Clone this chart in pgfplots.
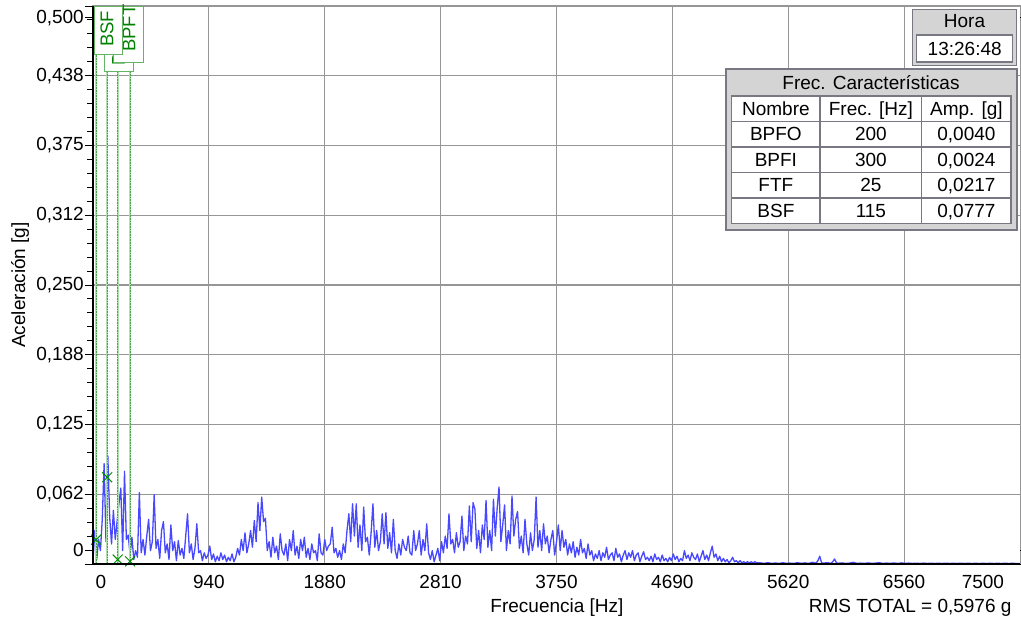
\documentclass[border=0pt]{standalone}
\usepackage{fontspec}
\setmainfont{Liberation Sans}
\usepackage{pgfplots}
\pgfplotsset{compat=1.18}
\usepackage{pgfplotstable}
\newcommand\fs{\fontsize{19}{22}\selectfont}
\newcommand\fsm{\fontsize{18.5}{20}\selectfont}
\definecolor{specblue}{RGB}{72,72,255}
\definecolor{gridgray}{RGB}{150,150,150}
\definecolor{mkgreen}{RGB}{0,140,0}
\definecolor{txtgreen}{RGB}{0,128,0}
\definecolor{boxgreen}{RGB}{100,180,100}
\definecolor{lightgreen}{RGB}{175,222,175}
\definecolor{dotgreen}{RGB}{70,160,70}
\definecolor{panel}{RGB}{212,212,212}
\definecolor{bord}{RGB}{120,120,130}

% spectrum: frequency [Hz], amplitude [mg]
\pgfplotstableread[row sep=\\]{
f a\\
0 3\\ 15 30\\ 30 4\\ 45 22\\ 60 12\\ 75 40\\ 90 90\\ 105 20\\ 120 97\\ 135 42\\
150 18\\ 165 48\\ 180 22\\ 195 38\\ 210 54\\ 225 68\\ 240 12\\ 255 83\\ 270 22\\ 285 26\\
300 8\\ 315 24\\ 330 4\\ 345 12\\ 360 6\\ 375 64\\ 390 10\\ 405 22\\ 420 8\\ 435 25\\
450 40\\ 465 12\\ 480 20\\ 495 62\\ 510 14\\ 525 22\\ 540 5\\ 555 30\\ 570 38\\ 585 10\\
600 18\\ 615 4\\ 630 35\\ 645 12\\ 660 20\\ 675 3\\ 690 21\\ 705 8\\ 720 14\\ 735 5\\
750 25\\ 765 45\\ 780 10\\ 795 18\\ 810 4\\ 825 14\\ 840 36\\ 855 10\\ 870 12\\ 885 3\\
900 10\\ 915 5\\ 930 8\\ 945 16\\ 960 4\\ 975 9\\ 990 2\\ 1005 7\\ 1020 3\\ 1035 10\\
1050 4\\ 1065 8\\ 1080 2\\ 1095 6\\ 1110 3\\ 1125 9\\ 1140 2\\ 1155 6\\ 1170 14\\ 1185 8\\
1200 22\\ 1215 12\\ 1230 28\\ 1245 10\\ 1260 18\\ 1275 30\\ 1290 15\\ 1305 39\\ 1320 20\\ 1335 55\\
1350 30\\ 1365 60\\ 1380 38\\ 1395 41\\ 1410 12\\ 1425 20\\ 1440 6\\ 1455 24\\ 1470 10\\ 1485 16\\
1500 4\\ 1515 27\\ 1530 12\\ 1545 8\\ 1560 18\\ 1575 3\\ 1590 22\\ 1605 12\\ 1620 30\\ 1635 8\\
1650 16\\ 1665 5\\ 1680 22\\ 1695 12\\ 1710 24\\ 1725 6\\ 1740 14\\ 1755 4\\ 1770 18\\ 1785 10\\
1800 12\\ 1815 3\\ 1830 27\\ 1845 10\\ 1860 8\\ 1875 22\\ 1890 12\\ 1905 16\\ 1920 18\\ 1935 33\\
1950 10\\ 1965 14\\ 1980 6\\ 1995 12\\ 2010 4\\ 2025 18\\ 2040 10\\ 2055 30\\ 2070 45\\ 2085 20\\
2100 54\\ 2115 25\\ 2130 54\\ 2145 15\\ 2160 35\\ 2175 12\\ 2190 51\\ 2205 20\\ 2220 24\\ 2235 8\\
2250 28\\ 2265 54\\ 2280 15\\ 2295 30\\ 2310 12\\ 2325 20\\ 2340 45\\ 2355 18\\ 2370 46\\ 2385 14\\
2400 28\\ 2415 10\\ 2430 40\\ 2445 12\\ 2460 5\\ 2475 18\\ 2490 8\\ 2505 22\\ 2520 15\\ 2535 12\\
2550 25\\ 2565 10\\ 2580 8\\ 2595 30\\ 2610 12\\ 2625 18\\ 2640 30\\ 2655 8\\ 2670 22\\ 2685 12\\
2700 36\\ 2715 10\\ 2730 4\\ 2745 12\\ 2760 2\\ 2775 8\\ 2790 14\\ 2805 3\\ 2820 20\\ 2835 10\\
2850 25\\ 2865 14\\ 2880 45\\ 2895 18\\ 2910 22\\ 2925 10\\ 2940 28\\ 2955 15\\ 2970 20\\ 2985 43\\
3000 12\\ 3015 25\\ 3030 18\\ 3045 52\\ 3060 20\\ 3075 55\\ 3090 49\\ 3105 14\\ 3120 30\\ 3135 10\\
3150 35\\ 3165 22\\ 3180 57\\ 3195 15\\ 3210 30\\ 3225 12\\ 3240 58\\ 3255 25\\ 3270 50\\ 3285 69\\
3300 20\\ 3315 35\\ 3330 53\\ 3345 12\\ 3360 30\\ 3375 18\\ 3390 61\\ 3405 25\\ 3420 40\\ 3435 47\\
3450 14\\ 3465 25\\ 3480 10\\ 3495 40\\ 3510 18\\ 3525 8\\ 3540 28\\ 3555 12\\ 3570 22\\ 3585 60\\
3600 15\\ 3615 30\\ 3630 12\\ 3645 36\\ 3660 18\\ 3675 25\\ 3690 10\\ 3705 22\\ 3720 30\\ 3735 8\\
3750 20\\ 3765 35\\ 3780 12\\ 3795 30\\ 3810 15\\ 3825 22\\ 3840 8\\ 3855 18\\ 3870 10\\ 3885 20\\
3900 6\\ 3915 15\\ 3930 8\\ 3945 22\\ 3960 10\\ 3975 14\\ 3990 5\\ 4005 18\\ 4020 8\\ 4035 12\\
4050 3\\ 4065 9\\ 4080 5\\ 4095 12\\ 4110 3\\ 4125 10\\ 4140 6\\ 4155 15\\ 4170 4\\ 4185 8\\
4200 10\\ 4215 3\\ 4230 14\\ 4245 6\\ 4260 9\\ 4275 2\\ 4290 8\\ 4305 12\\ 4320 4\\ 4335 10\\
4350 6\\ 4365 12\\ 4380 3\\ 4395 8\\ 4410 10\\ 4425 2\\ 4440 7\\ 4455 11\\ 4470 4\\ 4485 6\\
4500 3\\ 4515 7\\ 4530 2\\ 4545 9\\ 4560 4\\ 4575 6\\ 4590 2\\ 4605 8\\ 4620 3\\ 4635 5\\
4650 2\\ 4665 6\\ 4680 3\\ 4695 9\\ 4710 4\\ 4725 7\\ 4740 2\\ 4755 5\\ 4770 3\\ 4785 12\\
4800 5\\ 4815 8\\ 4830 3\\ 4845 10\\ 4860 6\\ 4875 4\\ 4890 9\\ 4905 2\\ 4920 7\\ 4935 12\\
4950 4\\ 4965 8\\ 4980 3\\ 4995 10\\ 5010 16\\ 5025 6\\ 5040 9\\ 5055 3\\ 5070 7\\ 5085 2\\
5100 5\\ 5115 2\\ 5130 4\\ 5145 1\\ 5160 3\\ 5175 6\\ 5190 2\\ 5205 3\\ 5220 1\\ 5235 3\\
5250 1\\ 5265 2\\ 5280 1\\ 5295 2\\ 5310 1\\ 5325 2\\ 5340 1\\ 5355 2\\ 5370 1\\ 5385 1\\
5400 1\\ 5430 0.6\\ 5460 1.2\\ 5490 0.5\\ 5520 0.9\\ 5550 0.5\\ 5580 1.1\\ 5610 0.6\\ 5640 0.8\\ 5670 0.5\\
5700 1.2\\ 5730 0.6\\ 5760 1\\ 5790 0.5\\ 5820 1.5\\ 5850 0.8\\ 5865 3\\ 5880 7\\ 5895 1\\ 5910 0.8\\
5940 1.2\\ 5970 0.6\\ 5985 2\\ 6000 4.5\\ 6015 1\\ 6030 0.7\\ 6060 1\\ 6090 0.5\\ 6120 0.8\\ 6150 1.5\\
6180 0.6\\ 6210 0.8\\ 6240 0.5\\ 6270 1\\ 6300 0.6\\ 6330 0.8\\ 6360 1.2\\ 6390 0.5\\ 6420 0.8\\ 6450 0.6\\
6480 0.9\\ 6510 0.5\\ 6540 1\\ 6570 0.6\\ 6600 0.8\\ 6630 0.5\\ 6660 0.7\\ 6690 0.5\\ 6720 0.8\\ 6750 0.5\\
6780 0.7\\ 6810 0.5\\ 6840 0.6\\ 6870 0.5\\ 6900 0.7\\ 6930 0.5\\ 6960 0.6\\ 6990 0.5\\ 7020 0.7\\ 7050 0.5\\
7080 0.6\\ 7110 0.5\\ 7140 0.6\\ 7170 0.5\\ 7200 0.6\\ 7230 0.5\\ 7260 0.6\\ 7290 0.5\\ 7320 0.6\\ 7350 0.5\\
7380 0.6\\ 7410 0.5\\ 7440 0.6\\ 7470 0.5\\ 7500 0.5\\
}\spec

\begin{document}
\begin{tikzpicture}
\useasboundingbox (-93pt,-62pt) rectangle (928pt,564pt);
\begin{axis}[
  at={(0pt,0pt)}, anchor=south west,
  scale only axis, width=927pt, height=558pt,
  xmin=0, xmax=7500, ymin=0, ymax=500,
  axis line style={gridgray, line width=1pt},
  xtick={937.5,1875,2812.5,3750,4687.5,5625,6562.5},
  xticklabels={940,1880,2810,3750,4690,5620,6560},
  extra x ticks={65,7200},
  extra x tick labels={0,7500},
  extra x tick style={grid=none, xtick style={draw=none}},
  ytick={0,62.5,125,187.5,250,312.5,375,437.5,500},
  yticklabels={{},{\mbox{0,062}},{\mbox{0,125}},{\mbox{0,188}},{\mbox{0,250}},{\mbox{0,312}},{\mbox{0,375}},{\mbox{0,438}},{}},
  extra y ticks={12.3,489.6},
  extra y tick labels={{\mbox{0}},{\mbox{0,500}}},
  extra y tick style={grid=none},
  minor y tick num=4,
  tick align=outside,
  major tick length=8pt, minor tick length=6pt,
  xtick style={draw=none},
  ytick style={black, line width=0.9pt},
  grid=major,
  major grid style={gridgray, line width=1.1pt},
  tick label style={font=\fs},
  yticklabel style={inner sep=1pt},
  clip=false,
]
\addplot[specblue, line width=1.3pt, line join=round] table[x=f, y=a]{\spec};
% characteristic frequency markers
\addplot[lightgreen, line width=2pt] coordinates {(25,0) (25,495)};
\addplot[lightgreen, line width=2pt] coordinates {(115,0) (115,495)};
\addplot[lightgreen, line width=2pt] coordinates {(200,0) (200,495)};
\addplot[lightgreen, line width=2pt] coordinates {(300,0) (300,495)};
\addplot[dotgreen, densely dotted, line width=0.6pt] coordinates {(25,0) (25,495)};
\addplot[dotgreen, densely dotted, line width=0.6pt] coordinates {(115,0) (115,495)};
\addplot[dotgreen, densely dotted, line width=0.6pt] coordinates {(200,0) (200,495)};
\addplot[dotgreen, densely dotted, line width=0.6pt] coordinates {(300,0) (300,495)};
\addplot[only marks, mark=x, mark size=7pt, mkgreen, line width=1pt]
  coordinates {(25,21.7) (115,77.7) (200,4.0) (300,2.4)};
\end{axis}
% frame (black left and bottom)
\draw[black, line width=1.3pt] (0pt,558pt) -- (0pt,0pt) -- (927pt,0pt);
% marker label boxes
\draw[boxgreen, fill=white, line width=0.9pt] (11pt,558pt) rectangle (40pt,493pt);
\node[rotate=90, anchor=west, txtgreen, font=\fsm, inner sep=0pt] at (25.5pt,498pt) {BPFO};
\draw[boxgreen, fill=white, line width=0.9pt] (20pt,558pt) rectangle (50pt,502pt);
\node[rotate=90, anchor=west, txtgreen, font=\fsm, inner sep=0pt] at (36pt,512pt) {BPFT};
\draw[boxgreen, fill=white, line width=0.9pt] (1.3pt,558pt) rectangle (29.7pt,510pt);
\node[rotate=90, anchor=west, txtgreen, font=\fsm, inner sep=0pt] at (14pt,517pt) {BSF};
% axis titles
\node[font=\fs, rotate=90] at (-73pt,279pt) {Aceleración [g]};
\node[font=\fs] at (464pt,-44pt) {Frecuencia [Hz]};
\node[font=\fs, anchor=east] at (922pt,-44pt) {RMS TOTAL = 0,5976 g};
% Hora box
\fill[panel] (819.3pt,554.7pt) rectangle (923.7pt,498.3pt);
\draw[bord, line width=1.4pt] (819.3pt,554.7pt) rectangle (923.7pt,498.3pt);
\node[font=\fs, inner sep=0pt, text height=13.6pt, text depth=0pt] at (871.5pt,543pt) {Hora};
\fill[white] (823.7pt,529pt) rectangle (919.7pt,502pt);
\draw[bord, line width=1.2pt] (823.7pt,529pt) rectangle (919.7pt,502pt);
\node[font=\fs, inner sep=0pt, text height=13.6pt, text depth=0pt] at (871.7pt,515.5pt) {13:26:48};
% Frec. Caracteristicas table
\fill[panel] (633pt,495pt) rectangle (924pt,334pt);
\draw[bord, line width=1.5pt] (633pt,495pt) rectangle (924pt,334pt);
\node[font=\fs, inner sep=0pt, text height=13.6pt, text depth=0pt] at (778pt,481pt) {Frec. Características};
\fill[white] (638.7pt,468pt) rectangle (918pt,340.5pt);
\draw[bord, line width=1.2pt] (638.7pt,468pt) rectangle (918pt,340.5pt);
\foreach \yy in {442.5,417,391.5,366} {\draw[bord, line width=1.2pt] (638.7pt,\yy pt) -- (918pt,\yy pt);}
\foreach \xx in {727,828.7} {\draw[bord, line width=1.2pt] (\xx pt,468pt) -- (\xx pt,340.5pt);}
\begin{scope}[every node/.style={font=\fs, inner sep=0pt, text height=13.6pt, text depth=0pt}]
\node at (682.9pt,455.3pt) {Nombre};
\node at (777.9pt,455.3pt) {Frec. [Hz]};
\node at (873.4pt,455.3pt) {Amp. [g]};
\node at (682.9pt,429.8pt) {BPFO};
\node at (777.9pt,429.8pt) {200};
\node at (873.4pt,429.8pt) {0,0040};
\node at (682.9pt,404.3pt) {BPFI};
\node at (777.9pt,404.3pt) {300};
\node at (873.4pt,404.3pt) {0,0024};
\node at (682.9pt,378.8pt) {FTF};
\node at (777.9pt,378.8pt) {25};
\node at (873.4pt,378.8pt) {0,0217};
\node at (682.9pt,353.3pt) {BSF};
\node at (777.9pt,353.3pt) {115};
\node at (873.4pt,353.3pt) {0,0777};
\end{scope}
\end{tikzpicture}
\end{document}
